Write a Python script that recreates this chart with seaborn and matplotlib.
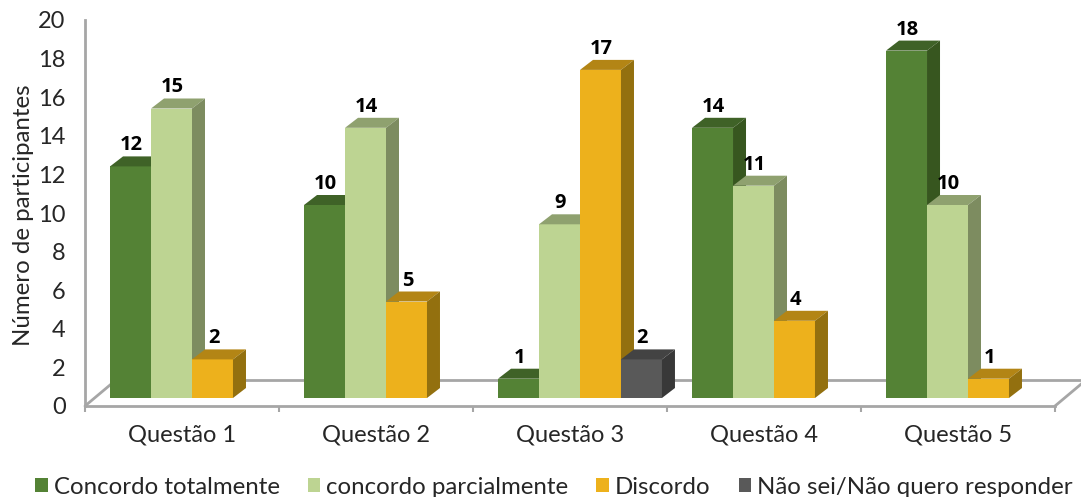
import pandas as pd
import matplotlib.pyplot as plt
import seaborn as sns
from matplotlib.patches import Polygon

# Values
questoes = ['Questão 1', 'Questão 2', 'Questão 3', 'Questão 4', 'Questão 5']
series_names = ['Concordo totalmente', 'concordo parcialmente', 'Discordo', 'Não sei/Não quero responder']
totalmente = [12, 10, 1, 14, 18]
parcialmente = [15, 14, 9, 11, 10]
discordo = [2, 5, 17, 4, 1]
nao_sei = [0, 0, 2, 0, 0]

front_colors = ['#548235', '#BDD492', '#EDB11C', '#595959']
top_colors = ['#3F6227', '#8FA16F', '#B38515', '#434343']
side_colors = ['#37561F', '#7D8C60', '#93700F', '#383838']
line_color = '#A6A6A6'

W, H = 1081, 497
LEFT, RIGHT, TOP, FLOOR = 85, 1055, 20, 406

sns.set_style('white')
plt.rcParams['font.family'] = ['Lato', 'DejaVu Sans']

fig = plt.figure(figsize=(W / 100, H / 100), dpi=100)
ax = fig.add_axes([LEFT / W, 1 - FLOOR / H, (RIGHT - LEFT) / W, (FLOOR - TOP) / H])

df = pd.DataFrame({
    'questao': questoes * 4,
    'serie': [s for s in series_names for _ in questoes],
    'valor': totalmente + parcialmente + discordo + nao_sei,
})
sns.barplot(data=df, x='questao', y='valor', hue='serie', order=questoes, hue_order=series_names,
            palette=front_colors, saturation=1, width=0.845, gap=0, linewidth=0, ax=ax)

ax.set_xlim(-0.5, 4.5)
ax.set_ylim(0, 20)

# pixels to data units, for the fake 3D look
px_x = 5 / (RIGHT - LEFT)
px_y = 20 / (FLOOR - TOP)
shift_x, shift_y = 10 * px_x, 8 * px_y
depth_x, depth_y = 13 * px_x, 10 * px_y

for i, container in enumerate(ax.containers):
    for bar in container:
        h = bar.get_height()
        if not h > 0:
            bar.set_visible(False)
            continue
        x0 = bar.get_x() + shift_x
        w = bar.get_width()
        y0 = shift_y
        bar.set_x(x0)
        bar.set_y(y0)
        z = 3 + i * 0.1
        bar.set_zorder(z)
        top = y0 + h
        ax.add_patch(Polygon([(x0, top), (x0 + depth_x, top + depth_y), (x0 + w + depth_x, top + depth_y), (x0 + w, top)],
                             facecolor=top_colors[i], edgecolor='none', zorder=z))
        ax.add_patch(Polygon([(x0 + w, y0), (x0 + w + depth_x, y0 + depth_y), (x0 + w + depth_x, top + depth_y), (x0 + w, top)],
                             facecolor=side_colors[i], edgecolor='none', zorder=z))
        ax.annotate(f'{h:.0f}', (x0 + w / 2, top), xytext=(1, 21), textcoords='offset pixels',
                    ha='center', va='center', fontsize=14.5, fontweight='bold', family='Open Sans',
                    color='black', zorder=10)

# floor of the 3D box
back_y = 26 * px_y
ax.plot([-0.5, -0.5 + 31 * px_x], [0, back_y], color=line_color, lw=2, zorder=1, clip_on=False)
ax.plot([-0.5 + 31 * px_x, 4.5 + 31 * px_x], [back_y, back_y], color=line_color, lw=2, zorder=1, clip_on=False)
ax.plot([4.5, 4.5 + 31 * px_x], [0, back_y], color=line_color, lw=2, zorder=1, clip_on=False)

sns.despine(ax=ax, top=True, right=True)
for side in ['left', 'bottom']:
    ax.spines[side].set_color(line_color)
    ax.spines[side].set_linewidth(2)

ax.set_yticks(range(0, 21, 2))
ax.set_xticks([k - 0.5 for k in range(6)], minor=True)
ax.tick_params(axis='x', which='minor', length=4, width=1.5, color=line_color, bottom=True)
ax.tick_params(axis='x', which='major', length=0, pad=13, labelsize=17, labelcolor='#262626')
ax.tick_params(axis='y', length=0, pad=14, labelsize=17, labelcolor='#262626')
ax.set_xlabel('')
ax.set_ylabel('Número de participantes', fontsize=17.3, color='#262626')
ax.yaxis.set_label_coords((34 - LEFT) / (RIGHT - LEFT), 0.495)

handles, labels = ax.get_legend_handles_labels()
ax.legend(handles, labels, ncol=4, frameon=False, loc='center', fontsize=17.3,
          bbox_to_anchor=((554 - LEFT) / (RIGHT - LEFT), (FLOOR - 487) / (FLOOR - TOP)),
          handlelength=0.52, handleheight=0.52, handletextpad=0.25, columnspacing=1.17, labelcolor='#262626')

plt.savefig('out.png', dpi=100)
